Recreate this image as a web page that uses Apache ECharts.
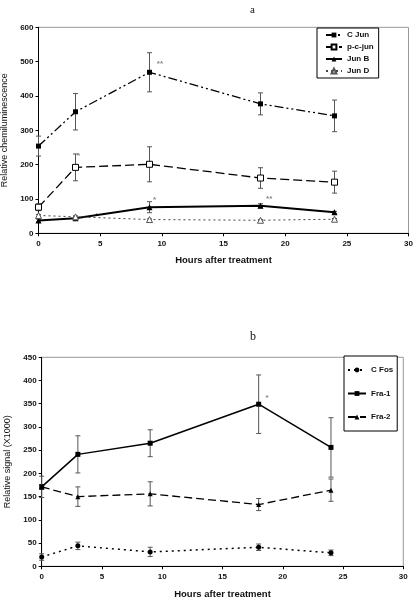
<!DOCTYPE html>
<html><head><meta charset="utf-8">
<script src="https://cdn.jsdelivr.net/npm/echarts@6/dist/echarts.min.js"></script>
<style>html,body{margin:0;padding:0;background:#fff;}#c{width:417px;height:601px;}</style>
</head><body><div id="c"></div>
<script>
const hours = [0, 3, 9, 18, 24];
const xTicks = [0, 5, 10, 15, 20, 25, 30];
// Chart a
const cJun = [254, 354, 469, 377, 342];
const cJunErr = [29, 53, 57, 32, 46];
const pcJun = [76, 192, 201, 161, 149];
const pcJunErr = [10, 39, 51, 30, 32];
const junB = [37, 44, 76, 80, 61];
const junBErr = [4, 4, 16, 6, 3];
const junD = [52, 48, 40, 38, 41];
const junDErr = [3, 3, 2, 2, 2];
const starsA = [[9.85, 493, '**'], [3.25, 225, '*'], [9.4, 99, '*'], [18.7, 101, '**'], [4.7, 51, '*']];
// Chart b
const cFos = [20, 44, 31, 41, 29];
const cFosErr = [7, 8, 10, 7, 6];
const fra1 = [171, 241, 265, 349, 256];
const fra1Err = [5, 40, 29, 63, 64];
const fra2 = [171, 150, 156, 133, 164];
const fra2Err = [23, 21, 26, 13, 24];
const starsB = [[18.7, 363, '*']];

const FONT = 'Liberation Sans, Arial, sans-serif';
const chart = echarts.init(document.getElementById('c'), null, {renderer: 'canvas'});

function pts(v) { return hours.map((h, i) => [h, v[i]]); }
function errData(v, e) { return hours.map((h, i) => [h, v[i], e[i]]); }
function errRender(params, api) {
  const x = api.value(0), y = api.value(1), e = api.value(2);
  const t = api.coord([x, y + e]), b = api.coord([x, y - e]);
  const cw = 2.5, st = {stroke: '#555', lineWidth: 1};
  return {type: 'group', children: [
    {type: 'line', shape: {x1: t[0], y1: t[1], x2: b[0], y2: b[1]}, style: st},
    {type: 'line', shape: {x1: t[0] - cw, y1: t[1], x2: t[0] + cw, y2: t[1]}, style: st},
    {type: 'line', shape: {x1: b[0] - cw, y1: b[1], x2: b[0] + cw, y2: b[1]}, style: st}
  ]};
}
function errSeries(v, e, gi) {
  return {type: 'custom', xAxisIndex: gi, yAxisIndex: gi, renderItem: errRender,
    data: errData(v, e), encode: {x: 0, y: 1}, z: 1, silent: true};
}
function lineSeries(name, v, gi, o) {
  return {type: 'line', name: name, xAxisIndex: gi, yAxisIndex: gi, data: pts(v),
    symbol: o.symbol, symbolSize: o.size, z: 3,
    lineStyle: {color: o.lineColor || '#000', width: o.width || 1.2, type: o.dash || 'solid'},
    itemStyle: {color: o.fill || '#000', borderColor: o.border || '#000', borderWidth: o.bw || 0},
    emphasis: {disabled: true}, animation: false};
}
function starSeries(arr, gi) {
  return {type: 'scatter', xAxisIndex: gi, yAxisIndex: gi, symbolSize: 0, silent: true,
    data: arr.map(s => ({value: [s[0], s[1]], label: {show: true, formatter: s[2]}})),
    label: {position: 'inside', color: '#666', fontSize: 8, fontFamily: FONT, fontWeight: 'bold'}};
}
function xAx(gi) {
  return {type: 'value', gridIndex: gi, min: 0, max: 30, interval: 5,
    name: 'Hours after treatment', nameLocation: 'middle', nameGap: gi === 0 ? 22 : 23,
    nameTextStyle: {fontFamily: FONT, fontWeight: 'bold', fontSize: 9.5, color: '#111', letterSpacing: 0.5},
    axisLine: {lineStyle: {color: '#000', width: 1}},
    axisTick: {show: true, length: 3, lineStyle: {color: '#000'}},
    axisLabel: {fontFamily: FONT, fontWeight: 'bold', fontSize: 8, color: '#111', margin: 6},
    splitLine: {show: false}};
}
function yAx(gi, max, iv, name) {
  return {type: 'value', gridIndex: gi, min: 0, max: max, interval: iv,
    name: name, nameLocation: 'middle', nameGap: gi === 0 ? 26 : 21,
    nameTextStyle: {fontFamily: FONT, fontSize: 9, color: '#111'},
    axisLine: {show: true, lineStyle: {color: '#000', width: 1}},
    axisTick: {show: true, length: 3, lineStyle: {color: '#000'}},
    axisLabel: {fontFamily: FONT, fontWeight: 'bold', fontSize: 8, color: '#111', margin: 5},
    splitLine: {show: false}};
}
const legText = {fontFamily: FONT, fontWeight: 'bold', fontSize: 8, color: '#111'};

chart.setOption({
  animation: false,
  backgroundColor: '#fff',
  title: [
    {text: 'a', left: 245, top: 0, textStyle: {fontFamily: 'Liberation Serif', fontSize: 11, fontWeight: 'normal', color: '#111'}},
    {text: 'b', left: 245, top: 326, textStyle: {fontFamily: 'Liberation Serif', fontSize: 12, fontWeight: 'normal', color: '#111'}}
  ],
  grid: [
    {left: 38.5, top: 27.3, width: 370, height: 206, show: true, borderColor: '#999', borderWidth: 1, backgroundColor: 'transparent', containLabel: false, outerBoundsMode: 'none'},
    {left: 41.7, top: 357.3, width: 361.6, height: 209, show: true, borderColor: '#999', borderWidth: 1, backgroundColor: 'transparent', containLabel: false, outerBoundsMode: 'none'}
  ],
  xAxis: [xAx(0), xAx(1)],
  yAxis: [yAx(0, 600, 100, 'Relative chemiluminescence'), yAx(1, 450, 50, 'Relative signal (X1000)')],
  legend: [
    {data: ['C Jun', 'p-c-jun', 'Jun B', 'Jun D'], orient: 'vertical', left: 317, top: 28,
      itemWidth: 16, itemHeight: 6, itemGap: 4, padding: [3, 5, 3, 8],
      borderColor: '#000', borderWidth: 1, backgroundColor: '#fff', textStyle: legText, selectedMode: false},
    {data: ['C Fos', 'Fra-1', 'Fra-2'], orient: 'vertical', left: 344, top: 356,
      itemWidth: 18, itemHeight: 6, itemGap: 15.5, padding: [10, 4, 10, 3],
      borderColor: '#000', borderWidth: 1, backgroundColor: '#fff', textStyle: legText, selectedMode: false}
  ],
  series: [
    errSeries(cJun, cJunErr, 0), errSeries(pcJun, pcJunErr, 0), errSeries(junB, junBErr, 0), errSeries(junD, junDErr, 0),
    lineSeries('C Jun', cJun, 0, {symbol: 'rect', size: 5, dash: [9, 3, 2, 3, 2, 3], width: 1.3}),
    lineSeries('p-c-jun', pcJun, 0, {symbol: 'rect', size: 6, dash: [9, 4], width: 1.3, fill: '#fff', border: '#000', bw: 1}),
    lineSeries('Jun B', junB, 0, {symbol: 'triangle', size: 6, width: 2}),
    lineSeries('Jun D', junD, 0, {symbol: 'triangle', size: 6, dash: [2, 3], width: 1, lineColor: '#444', fill: '#fff', border: '#555', bw: 1}),
    starSeries(starsA, 0),
    errSeries(cFos, cFosErr, 1), errSeries(fra1, fra1Err, 1), errSeries(fra2, fra2Err, 1),
    lineSeries('C Fos', cFos, 1, {symbol: 'circle', size: 5, dash: [2, 4], width: 1.5}),
    lineSeries('Fra-1', fra1, 1, {symbol: 'rect', size: 5, width: 1.5}),
    lineSeries('Fra-2', fra2, 1, {symbol: 'triangle', size: 5, dash: [8, 4], width: 1.3}),
    starSeries(starsB, 1)
  ]
});
</script></body></html>
